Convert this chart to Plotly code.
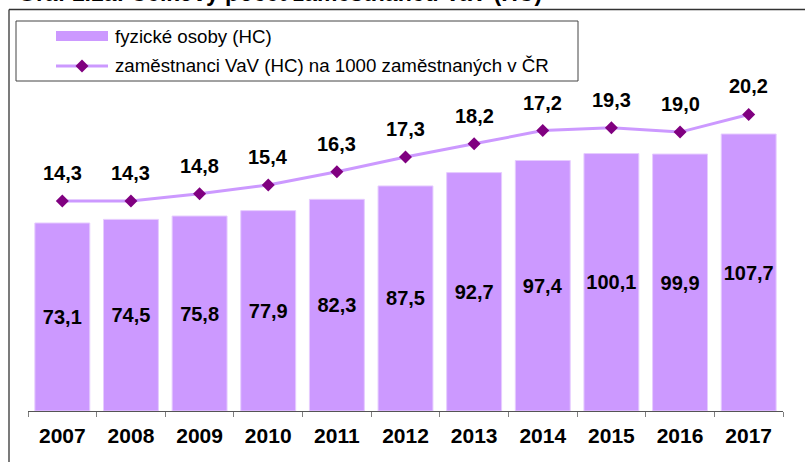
import plotly.graph_objects as go

# ---- data ----
years = ["2007", "2008", "2009", "2010", "2011", "2012", "2013", "2014", "2015", "2016", "2017"]
headcount = [73.1, 74.5, 75.8, 77.9, 82.3, 87.5, 92.7, 97.4, 100.1, 99.9, 107.7]
per_1000 = [14.3, 14.3, 14.8, 15.4, 16.3, 17.3, 18.2, 19.1, 19.3, 19.0, 20.2]
per_1000_labels = ["14,3", "14,3", "14,8", "15,4", "16,3", "17,3", "18,2", "17,2", "19,3", "19,0", "20,2"]
bar_name = "fyzické osoby (HC)"
line_name = "zaměstnanci VaV (HC) na 1000 zaměstnaných v ČR"
title_text = "Graf 1.1a: Celkový počet zaměstnanců VaV (HC)"

# ---- geometry ----
W, H = 805, 462
L, R, T, B = 28, 22, 11, 51
PW, PH = W - L - R, H - T - B

def X(px):
    return (px - L) / PW

def Y(py):
    return (H - B - py) / PH

FONT = "Liberation Sans, Arial, sans-serif"
BAR_C = "#CC99FF"
MARK_C = "#800080"

fig = go.Figure()
fig.add_trace(go.Bar(
    x=years, y=headcount, name=bar_name,
    marker=dict(color=BAR_C, line=dict(color="#E6CCFF", width=1)),
    text=[f"{v:.1f}".replace(".", ",") for v in headcount],
    textposition="inside", insidetextanchor="middle", textangle=0,
    textfont=dict(family=FONT, size=20, color="black", weight="bold"),
    constraintext="none",
    showlegend=False,
))
fig.add_trace(go.Scatter(
    x=years, y=per_1000, name=line_name, yaxis="y2", mode="lines+markers",
    line=dict(color=BAR_C, width=3),
    marker=dict(symbol="diamond", size=10, color=MARK_C),
    showlegend=False,
))

annotations = []
for i, (v, lab) in enumerate(zip(per_1000, per_1000_labels)):
    annotations.append(dict(
        x=i, y=v, xref="x", yref="y2", text=lab, showarrow=False,
        yshift=28, font=dict(family=FONT, size=20, color="black", weight="bold"),
    ))

# title (partially cut off at top)
annotations.append(dict(
    x=X(16), y=Y(-7), xref="paper", yref="paper", xanchor="left", yanchor="middle",
    text=title_text, showarrow=False,
    font=dict(family=FONT, size=23, color="black", weight="bold"),
))
# legend texts
annotations.append(dict(
    x=X(113), y=Y(37), xref="paper", yref="paper", xanchor="left", yanchor="middle",
    text=bar_name, showarrow=False, font=dict(family=FONT, size=18.7, color="black"),
))
annotations.append(dict(
    x=X(113), y=Y(66), xref="paper", yref="paper", xanchor="left", yanchor="middle",
    text=line_name, showarrow=False, font=dict(family=FONT, size=18.7, color="black"),
))

def diamond(cx, cy, r):
    pts = [(cx, cy - r), (cx + r, cy), (cx, cy + r), (cx - r, cy)]
    return "M " + " L ".join(f"{X(a)},{Y(b)}" for a, b in pts) + " Z"

shapes = [
    # outer frame
    dict(type="line", xref="paper", yref="paper", x0=X(9), y0=Y(9.5), x1=X(830), y1=Y(9.5),
         line=dict(color="#333333", width=1.3)),
    dict(type="line", xref="paper", yref="paper", x0=X(9), y0=Y(9.5), x1=X(9), y1=Y(480),
         line=dict(color="#333333", width=1.3)),
    # legend box
    dict(type="rect", xref="paper", yref="paper", x0=X(16), y0=Y(21), x1=X(578), y1=Y(81),
         line=dict(color="#444444", width=1), fillcolor="rgba(0,0,0,0)"),
    # legend bar swatch
    dict(type="rect", xref="paper", yref="paper", x0=X(56), y0=Y(31), x1=X(108), y1=Y(41),
         line=dict(width=0), fillcolor=BAR_C),
    # legend line swatch
    dict(type="line", xref="paper", yref="paper", x0=X(56), y0=Y(66), x1=X(108), y1=Y(66),
         line=dict(color=BAR_C, width=3)),
    dict(type="path", xref="paper", yref="paper", path=diamond(82, 66, 6.5),
         line=dict(width=0), fillcolor=MARK_C),
]

fig.update_layout(
    width=W, height=H,
    margin=dict(l=L, r=R, t=T, b=B, pad=0),
    paper_bgcolor="white", plot_bgcolor="white",
    bargap=0.2,
    showlegend=False,
    font=dict(family=FONT, color="black"),
    xaxis=dict(
        type="category", range=[-0.5, len(years) - 0.5],
        showline=True, linecolor="#555555", linewidth=1,
        ticks="outside", tickson="boundaries", ticklen=5, tickcolor="#808080",
        tickfont=dict(family=FONT, size=21, color="black", weight="bold"),
        ticklabelstandoff=6, showgrid=False, zeroline=False,
    ),
    yaxis=dict(range=[0, PH / 2.572], visible=False, showgrid=False, zeroline=False),
    yaxis2=dict(range=[0, PH / 14.68], overlaying="y", visible=False, showgrid=False, zeroline=False),
    annotations=annotations,
    shapes=shapes,
)

fig.write_html(
    "out.html",
    config={"displayModeBar": False},
    post_script="document.body.style.margin='0';document.body.style.padding='0';",
)
